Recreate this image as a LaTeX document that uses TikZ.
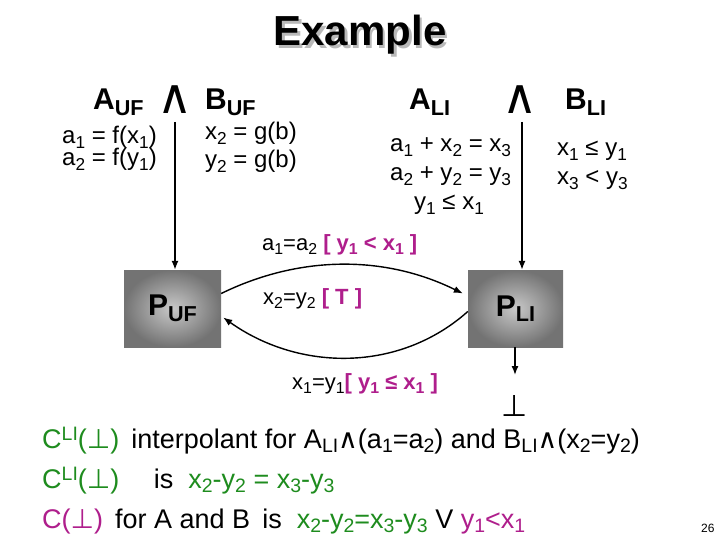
\documentclass[tikz,border=0pt]{standalone}
\usepackage{fontspec}
\setmainfont{Liberation Sans}
\newfontfamily\symf{DejaVu Sans}
\usetikzlibrary{arrows.meta}
\definecolor{grn}{RGB}{30,140,30}
\definecolor{mag}{RGB}{175,30,140}
\definecolor{boxout}{RGB}{115,115,115}
\definecolor{boxin}{RGB}{200,200,200}
\newcommand\dn[1]{\raisebox{-0.35ex}{\scalebox{0.72}{#1}}}
\newcommand\up[1]{\raisebox{0.55ex}{\scalebox{0.72}{#1}}}
\newcommand\wdg{{\symf ∧}}
\newcommand\perpsym{{\symf ⊥}}
\begin{document}
\begin{tikzpicture}[x=1pt,y=-1pt,
  txt/.style={anchor=base west,inner sep=0pt},
  hd/.style={txt,font=\fontsize{30}{30}\selectfont\bfseries},
  eq/.style={txt,font=\fontsize{24}{24}\selectfont},
  lab/.style={txt,font=\fontsize{22}{22}\selectfont},
  big/.style={txt,font=\fontsize{27}{27}\selectfont},
  wedge/.style={font=\fontsize{48}{48}\selectfont\symf,inner sep=0pt},
  pbox/.style={rectangle,minimum height=77pt,inner sep=0pt,
     shading=radial,outer color=boxout,inner color=boxin,
     font=\fontsize{30}{30}\selectfont\bfseries},
  arr/.style={line width=1.4pt,-{Latex[length=9pt,width=7pt]}}]
\useasboundingbox (0,0) rectangle (720,540);
\fill[white] (0,0) rectangle (720,540);
% title
\node[font=\fontsize{42}{42}\selectfont\bfseries,text=gray!55] at (362.5,37.5) {Example};
\node (title) [font=\fontsize{42}{42}\selectfont\bfseries] at (360,35) {Example};
% headings
\node (auf) [hd] at (93,110) {A\dn{UF}};
\node (w1) [wedge] at (175,100) {∧};
\node (buf) [hd] at (205,110) {B\dn{UF}};
\node (ali) [hd] at (409,110) {A\dn{LI}};
\node (w2) [wedge] at (520,100) {∧};
\node (bli) [hd] at (565,110) {B\dn{LI}};
% formulas
\node (f1) [eq] at (62,144) {a\dn{1} = f(x\dn{1})};
\node (f2) [eq] at (62,166) {a\dn{2} = f(y\dn{1})};
\node (g1) [eq] at (205,140) {x\dn{2} = g(b)};
\node (g2) [eq] at (205,168) {y\dn{2} = g(b)};
\node (h1) [eq] at (390,152) {a\dn{1} + x\dn{2} = x\dn{3}};
\node (h2) [eq] at (390,181) {a\dn{2} + y\dn{2} = y\dn{3}};
\node (h3) [eq] at (414,210) {y\dn{1} ≤ x\dn{1}};
\node (k1) [eq] at (557,156) {x\dn{1} ≤ y\dn{1}};
\node (k2) [eq] at (557,185) {x\dn{3} < y\dn{3}};
% boxes
\node (puf) [pbox,minimum width=97pt] at (172.5,308.5) {P\dn{UF}};
\node (pli) [pbox,minimum width=95pt] at (515.5,308.5) {P\dn{LI}};
% vertical lines
\coordinate (t1) at (175,122);
\coordinate (t2) at (522,122);
\draw[arr] (t1) -- (t1 |- puf.north);
\draw[arr] (t2) -- (t2 |- pli.north);
% curves
\draw[arr] ([yshift=15pt]puf.east) .. controls (300,255) and (385,255) .. ([yshift=15pt,xshift=-5pt]pli.west);
\draw[arr] ([yshift=-3pt]pli.west) .. controls (400,372) and (300,372) .. ([yshift=-9pt,xshift=2pt]puf.east);
% labels
\node (l1) [lab] at (262,250) {a\dn{1}=a\dn{2} \textcolor{mag}{\bfseries[ y\dn{1} < x\dn{1} ]}};
\node (l2) [lab] at (263,304) {x\dn{2}=y\dn{2} \textcolor{mag}{\bfseries[ T ]}};
\node (l3) [lab] at (292,389) {x\dn{1}=y\dn{1}\textcolor{mag}{\bfseries[ y\dn{1} ≤ x\dn{1} ]}};
% bottom
\coordinate (bt) at (515,375);
\draw[arr] (pli.south -| bt) -- (bt);
\node (botsym) [font=\fontsize{30}{30}\selectfont] at (515,406) {\perpsym};
% text lines
\node (c1) [big] at (42,448) {\textcolor{grn}{C\up{LI}(\perpsym)}\, interpolant for A\dn{LI}\wdg(a\dn{1}=a\dn{2}) and B\dn{LI}\wdg(x\dn{2}=y\dn{2})};
\node (c2) [big] at (42,488) {\textcolor{grn}{C\up{LI}(\perpsym)} \quad is \ \textcolor{grn}{x\dn{2}-y\dn{2} = x\dn{3}-y\dn{3}}};
\node (c3) [big] at (42,528) {\textcolor{mag}{C(\perpsym)}\, for A and B\, is \ \textcolor{grn}{x\dn{2}-y\dn{2}=x\dn{3}-y\dn{3}} V \textcolor{mag}{y\dn{1}<x\dn{1}}};
\node (pg) [txt,font=\fontsize{12}{12}\selectfont] at (701,532) {26};
\end{tikzpicture}
\end{document}
